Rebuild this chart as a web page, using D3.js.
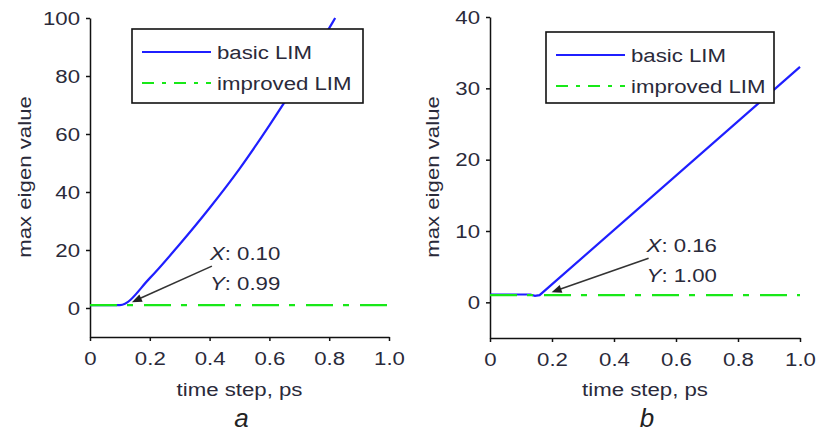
<!DOCTYPE html>
<html>
<head>
<meta charset="utf-8">
<style>
  body { margin: 0; background: #fff; }
  svg { display: block; font-family: "Liberation Sans", Arial, sans-serif; }
  .axis path, .axis line { stroke: #111; stroke-width: 1.5; }
  .axis text { font-size: 19px; fill: #2a2a3a; }
</style>
<script src="https://cdn.jsdelivr.net/npm/d3@7"></script>
</head>
<body>
<script>
// data
var xTicks = [0, 0.2, 0.4, 0.6, 0.8, 1.0];
var yTicksA = [0, 20, 40, 60, 80, 100];
var yTicksB = [0, 10, 20, 30, 40];

// panel a
var basicA = [[0, 1], [0.1, 0.99], [0.2, 10.3], [0.3, 22], [0.4, 34.5], [0.5, 48],
              [0.6, 63], [0.7, 79], [0.8, 96.5], [0.82, 100]];
var improvedA = [[0, 1], [1.0, 1]];
var tipA = {x: 0.10, y: 0.99};

// panel b
var basicB = [[0, 1.1], [0.13, 1.1], [0.145, 0.9], [0.16, 1.0], [1.0, 33]];
var improvedB = [[0, 1], [1.0, 1]];
var tipB = {x: 0.16, y: 1.00};

var seriesNames = ["basic LIM", "improved LIM"];
var xLabel = "time step, ps";
var yLabel = "max eigen value";

var W = 821, H = 446;
var blue = "#1f1fff", green = "#18e818", dash = "27,10,6,11";
var SX = 1.17; // glyphs in the picture are wider than Arial

var svg = d3.select("body").append("svg")
    .attr("width", W)
    .attr("height", H);

svg.append("rect").attr("width", W).attr("height", H).attr("fill", "#fff");

// place a text at x,y and widen it
function wideText(sel, x, y, extra) {
  return sel.append("text")
      .attr("transform", "translate(" + x + "," + y + ")" + (extra || "") + " scale(" + SX + ",1)");
}

var panels = [
  {letter: "a", basic: basicA, improved: improvedA, tip: tipA, yTicks: yTicksA,
   curve: d3.curveMonotoneX,
   xr: [90, 389], ydom: [-10, 100], yr: [337, 18],
   legend: {x: 132, y: 29, w: 231, h: 74}, tipText: [90, -45], ylabX: 31},
  {letter: "b", basic: basicB, improved: improvedB, tip: tipB, yTicks: yTicksB,
   curve: d3.curveLinear,
   xr: [490, 800], ydom: [-5, 40], yr: [338, 17],
   legend: {x: 546, y: 32, w: 228, h: 71}, tipText: [107, -43], ylabX: 439}
];

var fmtX = d => d === 0 ? "0" : d3.format(".1f")(d);

panels.forEach(function(p) {
  var x = d3.scaleLinear().domain([0, 1]).range(p.xr);
  var y = d3.scaleLinear().domain(p.ydom).range(p.yr);
  var g = svg.append("g");

  var gx = g.append("g")
      .attr("class", "axis")
      .attr("transform", "translate(0," + y(p.ydom[0]) + ")")
      .call(d3.axisBottom(x).tickValues(xTicks).tickFormat(fmtX).tickSize(4).tickSizeOuter(0).tickPadding(11));
  gx.selectAll("text").attr("transform", "scale(" + SX + ",1)");

  var gy = g.append("g")
      .attr("class", "axis")
      .attr("transform", "translate(" + x(0) + ",0)")
      .call(d3.axisLeft(y).tickValues(p.yTicks).tickSize(4).tickSizeOuter(0).tickPadding(6));
  gy.selectAll("text").attr("x", -10 / SX).attr("transform", "scale(" + SX + ",1)");

  var line = d3.line().x(d => x(d[0])).y(d => y(d[1])).curve(p.curve);

  g.append("path").datum(p.basic)
      .attr("d", line)
      .attr("fill", "none")
      .attr("stroke", blue)
      .attr("stroke-width", 2.2);

  g.append("path").datum(p.improved)
      .attr("d", d3.line().x(d => x(d[0])).y(d => y(d[1])))
      .attr("fill", "none")
      .attr("stroke", green)
      .attr("stroke-width", 2.2)
      .attr("stroke-dasharray", dash);

  // data tip
  var px = x(p.tip.x), py = y(p.tip.y);
  var tx = px + p.tipText[0], ty = py + p.tipText[1];
  var ex = px + 12, ey = py - 3;
  var sx = tx + 2, sy = ty + 6;
  var ang = Math.atan2(ey - sy, ex - sx);
  g.append("line")
      .attr("x1", sx).attr("y1", sy)
      .attr("x2", ex - 8 * Math.cos(ang)).attr("y2", ey - 8 * Math.sin(ang))
      .attr("stroke", "#333").attr("stroke-width", 1.6);
  var hl = 10, hw = 4;
  var bx = ex - hl * Math.cos(ang), by = ey - hl * Math.sin(ang);
  g.append("path")
      .attr("d", "M" + ex + "," + ey +
                 "L" + (bx + hw * Math.sin(ang)) + "," + (by - hw * Math.cos(ang)) +
                 "L" + (bx - hw * Math.sin(ang)) + "," + (by + hw * Math.cos(ang)) + "Z")
      .attr("fill", "#222");

  var t1 = wideText(g, tx, ty).attr("font-size", 19).attr("fill", "#2a2a3a");
  t1.append("tspan").attr("font-style", "italic").text("X");
  t1.append("tspan").text(": " + p.tip.x.toFixed(2));
  var t2 = wideText(g, tx, ty + 30).attr("font-size", 19).attr("fill", "#2a2a3a");
  t2.append("tspan").attr("font-style", "italic").text("Y");
  t2.append("tspan").text(": " + p.tip.y.toFixed(2));

  // legend
  var L = p.legend;
  var lg = g.append("g").attr("transform", "translate(" + L.x + "," + L.y + ")");
  lg.append("rect")
      .attr("width", L.w).attr("height", L.h)
      .attr("fill", "#fff").attr("stroke", "#111").attr("stroke-width", 1.6);
  seriesNames.forEach(function(name, i) {
    var ly = 23 + i * 31;
    lg.append("line")
        .attr("x1", 10).attr("x2", 79)
        .attr("y1", ly).attr("y2", ly)
        .attr("stroke", i === 0 ? blue : green)
        .attr("stroke-width", 2.2)
        .attr("stroke-dasharray", i === 0 ? null : "12,8,4,8");
    wideText(lg, 85, ly + 7)
        .attr("font-size", 19).attr("fill", "#2a2a3a")
        .text(name);
  });

  // axis labels
  var cx = (p.xr[0] + p.xr[1]) / 2;
  wideText(g, cx, 396)
      .attr("text-anchor", "middle")
      .attr("font-size", 19).attr("fill", "#2a2a3a")
      .text(xLabel);
  wideText(g, p.ylabX, 177, " rotate(-90)")
      .attr("text-anchor", "middle")
      .attr("font-size", 19).attr("fill", "#2a2a3a")
      .text(yLabel);
  g.append("text")
      .attr("x", cx + 2).attr("y", 427)
      .attr("text-anchor", "middle")
      .attr("font-size", 26).attr("font-style", "italic").attr("fill", "#222")
      .text(p.letter);
});
</script>
</body>
</html>
